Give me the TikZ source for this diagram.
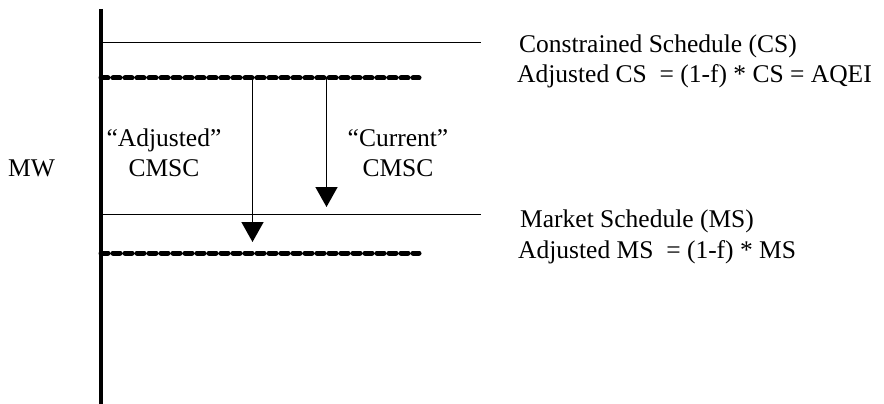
\documentclass[tikz,border=0pt]{standalone}
\usepackage{fontspec}
\setmainfont{Liberation Serif}
\usetikzlibrary{arrows.meta,positioning}
\tikzstyle{axis} = [line width=4pt]
\tikzstyle{schedule} = [line width=1.6pt]
\tikzstyle{adjusted} = [line width=5pt, line cap=round, dash pattern=on 7pt off 5pt]
\tikzstyle{arrow} = [line width=1.6pt, -{Triangle[width=22pt,length=20pt]}]
\tikzstyle{txt} = [inner sep=0pt, anchor=base west, font=\fontsize{25.5}{30}\selectfont]
\tikzstyle{cmsc} = [inner sep=0pt, align=center, anchor=base, font=\fontsize{25.5}{30}\selectfont]

\begin{document}
\begin{tikzpicture}[x=1pt, y=-1pt]
\useasboundingbox (0,0) rectangle (884,404);

% MW axis
\coordinate (axisTop) at (100.5,9);
\coordinate (axisBot) at (100.5,404);
\draw[axis] (axisTop) -- (axisBot);

% schedules
\coordinate (csL) at (100,42.5);
\coordinate (csR) at (481,42.5);
\coordinate (adjcsL) at (101,78);
\coordinate (adjcsR) at (419,78);
\coordinate (msL) at (100,214.5);
\coordinate (msR) at (481,214.5);
\coordinate (adjmsL) at (101,253);
\coordinate (adjmsR) at (419,253);
\draw[schedule] (csL) -- (csR);
\draw[schedule] (msL) -- (msR);
\draw[adjusted] (adjcsL) -- (adjcsR);
\draw[adjusted] (adjmsL) -- (adjmsR);

% CMSC arrows
\coordinate (adjStart) at (252.5,78);
\coordinate (adjEnd) at (252.5,242);
\coordinate (curStart) at (326.5,78);
\coordinate (curEnd) at (326.5,207);
\draw[arrow] (adjStart) -- (adjEnd);
\draw[arrow] (curStart) -- (curEnd);

% labels
\node[txt] (mw) at (8,176) {MW};
\node[cmsc] (adjcmsc) at (164,176) {“Adjusted”\\CMSC};
\node[cmsc] (curcmsc) at (398,176) {“Current”\\CMSC};
\node[txt] (cs) at (519,53) {Constrained Schedule (CS)};
\node[txt] (adjcs) at ([xshift=-2pt,yshift=-30pt]cs.base west) {Adjusted CS~~= (1-f) * CS = AQEI};
\node[txt] (ms) at (520,227) {Market Schedule (MS)};
\node[txt] (adjms) at ([xshift=-2pt,yshift=-31pt]ms.base west) {Adjusted MS~~= (1-f) * MS};

\end{tikzpicture}
\end{document}
